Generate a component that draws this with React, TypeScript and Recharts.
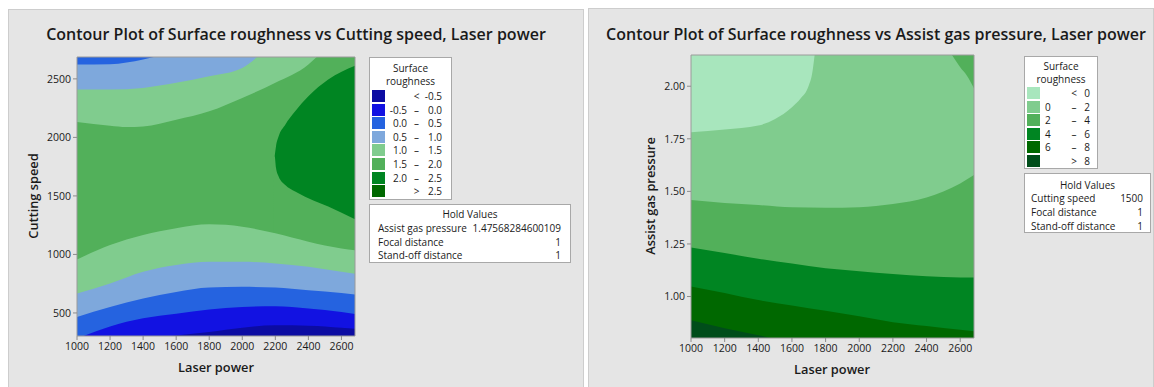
import React from 'react';
import { Area, CartesianGrid, ComposedChart, ReferenceArea, XAxis, YAxis } from 'recharts';

const FONT = '"Open Sans", "Noto Sans", sans-serif';

// ---------- shared x (Laser power) ----------
const laserPower = [1000, 1200, 1400, 1600, 1800, 2000, 2200, 2400, 2600, 2682];
const powerTicks = [1000, 1200, 1400, 1600, 1800, 2000, 2200, 2400, 2600];

// ---------- left plot: Cutting speed vs Laser power ----------
const speedTicks = [500, 1000, 1500, 2000, 2500];
const roughLevelsA = ['-0.5', '0.0', '0.5', '1.0', '1.5', '2.0', '2.5'];
const roughColorsA = ['#0c0ca2', '#1212e2', '#2563e0', '#7ea8dc', '#80cc8e', '#52b05a', '#008522', '#006800'];

// contour lines (cutting speed at given laser power)
const top05Power = [1000, 1200, 1400, 1500];
const top05Speed = [2623, 2626, 2666, 2700];
const top10Power = [1000, 1200, 1400, 1600, 1800, 2000, 2100];
const top10Speed = [2409, 2409, 2423, 2466, 2523, 2594, 2700];
const top15Power = [1000, 1200, 1300, 1400, 1600, 1800, 2000, 2200, 2400, 2460];
const top15Speed = [2131, 2100, 2089, 2094, 2151, 2223, 2337, 2466, 2623, 2700];
const ridgeUpperPower = [2196, 2204, 2220, 2260, 2320, 2400, 2520, 2682];
const ridgeUpperSpeed = [1837, 1923, 2009, 2109, 2223, 2351, 2494, 2612];
const ridgeLowerPower = [2186, 2196, 2204, 2220, 2260, 2320, 2400, 2520, 2682];
const ridgeLowerSpeed = [1837, 1837, 1740, 1666, 1594, 1537, 1480, 1409, 1300];
const low15Speed = [957, 1080, 1166, 1223, 1257, 1237, 1180, 1109, 1051, 1035];
const low10Speed = [666, 751, 851, 909, 937, 937, 923, 894, 851, 835];
const low05Speed = [466, 551, 623, 680, 717, 723, 717, 694, 671, 658];
const low00Power = [1040, 1200, 1400, 1600, 1800, 2000, 2200, 2400, 2600, 2682];
const low00Speed = [303, 385, 455, 494, 529, 551, 557, 537, 509, 492];
const lowM05Power = [1570, 1800, 2000, 2200, 2400, 2600, 2682];
const lowM05Speed = [303, 337, 374, 394, 391, 374, 366];

// ---------- right plot: Assist gas pressure vs Laser power ----------
const gasTicks = [1.0, 1.25, 1.5, 1.75, 2.0];
const roughLevelsB = ['0', '2', '4', '6', '8'];
const roughColorsB = ['#a8e6bd', '#80cc8e', '#52b05a', '#008522', '#006800', '#004d1a'];

const lvl0Power = [1000, 1200, 1400, 1500, 1600, 1650, 1700, 1720, 1735];
const lvl0Gas = [1.781, 1.794, 1.813, 1.844, 1.9, 1.94, 2.003, 2.06, 2.15];
const cornerPower = [2550, 2600, 2640, 2682];
const cornerGas = [2.15, 2.09, 2.05, 1.99];
const lvl2Gas = [1.459, 1.445, 1.435, 1.424, 1.422, 1.425, 1.44, 1.471, 1.538, 1.578];
const lvl4Gas = [1.233, 1.207, 1.18, 1.157, 1.134, 1.12, 1.107, 1.097, 1.091, 1.09];
const lvl6Gas = [1.048, 1.017, 0.983, 0.957, 0.932, 0.906, 0.878, 0.86, 0.842, 0.835];
const lvl8Power = [1000, 1200, 1400, 1490];
const lvl8Gas = [0.887, 0.849, 0.816, 0.8];

type Band = { key: string; x: number[]; y: number[]; color: string; fromTop?: boolean };
type Row = { power: number; [k: string]: number };

function buildRows(bands: Band[]): Row[] {
  const map = new Map<number, Row>();
  bands.forEach((b) => b.x.forEach((x, i) => {
    const row = map.get(x) ?? { power: x };
    row[b.key] = b.y[i];
    map.set(x, row);
  }));
  return [...map.values()].sort((a, b) => a.power - b.power);
}

const leftBands: Band[] = [
  { key: 't15', x: top15Power, y: top15Speed, color: roughColorsA[4], fromTop: true },
  { key: 't10', x: top10Power, y: top10Speed, color: roughColorsA[3], fromTop: true },
  { key: 't05', x: top05Power, y: top05Speed, color: roughColorsA[2], fromTop: true },
  { key: 'ru', x: ridgeUpperPower, y: ridgeUpperSpeed, color: roughColorsA[6] },
  { key: 'rl', x: ridgeLowerPower, y: ridgeLowerSpeed, color: roughColorsA[5] },
  { key: 'l15', x: laserPower, y: low15Speed, color: roughColorsA[4] },
  { key: 'l10', x: laserPower, y: low10Speed, color: roughColorsA[3] },
  { key: 'l05', x: laserPower, y: low05Speed, color: roughColorsA[2] },
  { key: 'l00', x: low00Power, y: low00Speed, color: roughColorsA[1] },
  { key: 'lm05', x: lowM05Power, y: lowM05Speed, color: roughColorsA[0] },
];

const rightBands: Band[] = [
  { key: 'g0', x: lvl0Power, y: lvl0Gas, color: roughColorsB[0], fromTop: true },
  { key: 'gc', x: cornerPower, y: cornerGas, color: roughColorsB[2], fromTop: true },
  { key: 'g2', x: laserPower, y: lvl2Gas, color: roughColorsB[2] },
  { key: 'g4', x: laserPower, y: lvl4Gas, color: roughColorsB[3] },
  { key: 'g6', x: laserPower, y: lvl6Gas, color: roughColorsB[4] },
  { key: 'g8', x: lvl8Power, y: lvl8Gas, color: roughColorsB[5] },
];

const tickStyle = { fill: '#1a1a1a', fontSize: 10.5, fontFamily: FONT };

interface ContourProps {
  bands: Band[];
  background: string;
  xDomain: [number, number];
  yDomain: [number, number];
  yTicks: number[];
  yFormat: (v: number) => string;
  width: number;
  height: number;
  margin: { top: number; right: number; bottom: number; left: number };
}

const Contour: React.FC<ContourProps> = ({ bands, background, xDomain, yDomain, yTicks, yFormat, width, height, margin }) => (
  <ComposedChart width={width} height={height} data={buildRows(bands)} margin={margin}>
    <CartesianGrid fill={background} stroke="none" horizontal={false} vertical={false} />
    <XAxis
      dataKey="power"
      type="number"
      domain={xDomain}
      allowDataOverflow
      ticks={powerTicks}
      interval={0}
      height={30}
      axisLine={false}
      tickLine={{ stroke: '#8c8c8c' }}
      tickSize={4}
      tickMargin={3}
      tick={tickStyle}
    />
    <YAxis
      type="number"
      domain={yDomain}
      allowDataOverflow
      ticks={yTicks}
      interval={0}
      width={60}
      axisLine={false}
      tickLine={{ stroke: '#8c8c8c' }}
      tickSize={4}
      tickMargin={2}
      tick={tickStyle}
      tickFormatter={yFormat}
    />
    {bands.map((b) => (
      <Area
        key={b.key}
        type="monotone"
        dataKey={b.key}
        baseValue={b.fromTop ? yDomain[1] : yDomain[0]}
        stroke="none"
        fill={b.color}
        fillOpacity={1}
        connectNulls
        dot={false}
        activeDot={false}
        isAnimationActive={false}
      />
    ))}
    <ReferenceArea x1={xDomain[0]} x2={xDomain[1]} y1={yDomain[0]} y2={yDomain[1]} fill="none" stroke="#9a9a9a" strokeWidth={1} />
  </ComposedChart>
);

const Txt: React.FC<{ x: number; y: number; size: number; weight?: number; rotate?: boolean; children: React.ReactNode }> = ({ x, y, size, weight = 400, rotate, children }) => (
  <div
    style={{
      position: 'absolute', left: x, top: y, whiteSpace: 'nowrap', fontFamily: FONT, fontSize: size,
      fontWeight: weight, color: '#1a1a1a', lineHeight: 1,
      transform: `translate(-50%, -50%)${rotate ? ' rotate(-90deg)' : ''}`,
    }}
  >
    {children}
  </div>
);

const boxStyle: React.CSSProperties = {
  position: 'absolute', background: '#fff', border: '1px solid #a8a8a8', boxSizing: 'border-box',
  fontFamily: FONT, fontSize: 10, color: '#1a1a1a',
};

interface LegendProps {
  left: number; top: number; width: number; height: number;
  levels: string[]; colors: string[];
  titleY: number; rowY: number; pitch: number;
  lowX: number; lowAlign: 'left' | 'right'; symX: number; highX: number;
}

const LevelLegend: React.FC<LegendProps> = (p) => {
  const n = p.levels.length;
  const rows = p.colors.map((c, i) => {
    if (i === 0) return { c, lo: '', sym: '<', hi: p.levels[0] };
    if (i === n) return { c, lo: '', sym: '>', hi: p.levels[n - 1] };
    return { c, lo: p.levels[i - 1], sym: '–', hi: p.levels[i] };
  });
  const at = (y: number): React.CSSProperties => ({ position: 'absolute', top: y - 6, height: 12, lineHeight: '12px', whiteSpace: 'nowrap' });
  return (
    <div style={{ ...boxStyle, left: p.left, top: p.top, width: p.width, height: p.height }}>
      <div style={{ ...at(p.titleY), left: 0, width: '100%', textAlign: 'center' }}>Surface</div>
      <div style={{ ...at(p.titleY + 13.3), left: 0, width: '100%', textAlign: 'center' }}>roughness</div>
      {rows.map((r, i) => {
        const y = p.rowY + i * p.pitch;
        return (
          <React.Fragment key={i}>
            <div style={{ position: 'absolute', left: 2, top: y - 6, width: 13, height: 12, background: r.c }} />
            {p.lowAlign === 'right'
              ? <div style={{ ...at(y), right: p.width - p.lowX, textAlign: 'right' }}>{r.lo}</div>
              : <div style={{ ...at(y), left: p.lowX }}>{r.lo}</div>}
            <div style={{ ...at(y), left: p.symX - 10, width: 20, textAlign: 'center' }}>{r.sym}</div>
            <div style={{ ...at(y), right: p.width - p.highX, textAlign: 'right' }}>{r.hi}</div>
          </React.Fragment>
        );
      })}
    </div>
  );
};

const HoldBox: React.FC<{ left: number; top: number; width: number; height: number; items: [string, string][]; titleY: number; rowY: number; pitch: number; padL: number; padR: number }> = (p) => {
  const at = (y: number): React.CSSProperties => ({ position: 'absolute', top: y - 6, height: 12, lineHeight: '12px', whiteSpace: 'nowrap' });
  return (
    <div style={{ ...boxStyle, left: p.left, top: p.top, width: p.width, height: p.height }}>
      <div style={{ ...at(p.titleY), left: 0, width: '100%', textAlign: 'center' }}>Hold Values</div>
      {p.items.map(([k, v], i) => (
        <React.Fragment key={k}>
          <div style={{ ...at(p.rowY + i * p.pitch), left: p.padL }}>{k}</div>
          <div style={{ ...at(p.rowY + i * p.pitch), right: p.padR, textAlign: 'right' }}>{v}</div>
        </React.Fragment>
      ))}
    </div>
  );
};

const holdA: [string, string][] = [['Assist gas pressure', '1.47568284600109'], ['Focal distance', '1'], ['Stand-off distance', '1']];
const holdB: [string, string][] = [['Cutting speed', '1500'], ['Focal distance', '1'], ['Stand-off distance', '1']];

const panelStyle: React.CSSProperties = {
  position: 'absolute', background: '#e5e5e5', border: '1px solid #cdcdcd', boxSizing: 'border-box',
};

export default function App() {
  return (
    <div style={{ position: 'fixed', left: 0, top: 0, width: 1154, height: 387, overflow: 'hidden', background: '#fff' }}>
      <div style={{ position: 'absolute', left: 8, top: 8, width: 1146, height: 379 }}>
        <div style={{ ...panelStyle, left: 0, top: 1, width: 576, height: 380 }} />
        <div style={{ ...panelStyle, left: 580, top: 0, width: 566, height: 381 }} />

        <div style={{ position: 'absolute', left: 0, top: 0 }}>
          <Contour
            bands={leftBands}
            background={roughColorsA[5]}
            xDomain={[1000, 2682]}
            yDomain={[303, 2687]}
            yTicks={speedTicks}
            yFormat={(v) => String(v)}
            width={575}
            height={379}
            margin={{ top: 49, right: 228, bottom: 21, left: 9 }}
          />
        </div>
        <div style={{ position: 'absolute', left: 580, top: 0 }}>
          <Contour
            bands={rightBands}
            background={roughColorsB[1]}
            xDomain={[1000, 2682]}
            yDomain={[0.8028, 2.1485]}
            yTicks={gasTicks}
            yFormat={(v) => v.toFixed(2)}
            width={566}
            height={379}
            margin={{ top: 47, right: 180, bottom: 19, left: 43 }}
          />
        </div>

        <Txt x={288} y={26} size={16} weight={600}>Contour Plot of Surface roughness vs Cutting speed, Laser power</Txt>
        <Txt x={868} y={26} size={16} weight={600}>Contour Plot of Surface roughness vs Assist gas pressure, Laser power</Txt>
        <Txt x={208} y={359} size={12.8} weight={600}>Laser power</Txt>
        <Txt x={25} y={188} size={12.8} weight={600} rotate>Cutting speed</Txt>
        <Txt x={824} y={361} size={12.8} weight={600}>Laser power</Txt>
        <Txt x={642} y={188} size={12.8} weight={600} rotate>Assist gas pressure</Txt>

        <LevelLegend
          left={361} top={49} width={83} height={143}
          levels={roughLevelsA} colors={roughColorsA}
          titleY={10} rowY={38} pitch={13.6}
          lowX={39} lowAlign="right" symX={46.5} highX={74}
        />
        <HoldBox left={361} top={196} width={202} height={59} items={holdA} titleY={9} rowY={23} pitch={13.6} padL={8} padR={9} />

        <LevelLegend
          left={1016} top={48} width={74} height={113}
          levels={roughLevelsB} colors={roughColorsB}
          titleY={8.7} rowY={36} pitch={13.6}
          lowX={20} lowAlign="left" symX={49} highX={67}
        />
        <HoldBox left={1016} top={165} width={127} height={60} items={holdB} titleY={11} rowY={24} pitch={13.8} padL={6} padR={7} />
      </div>
    </div>
  );
}
